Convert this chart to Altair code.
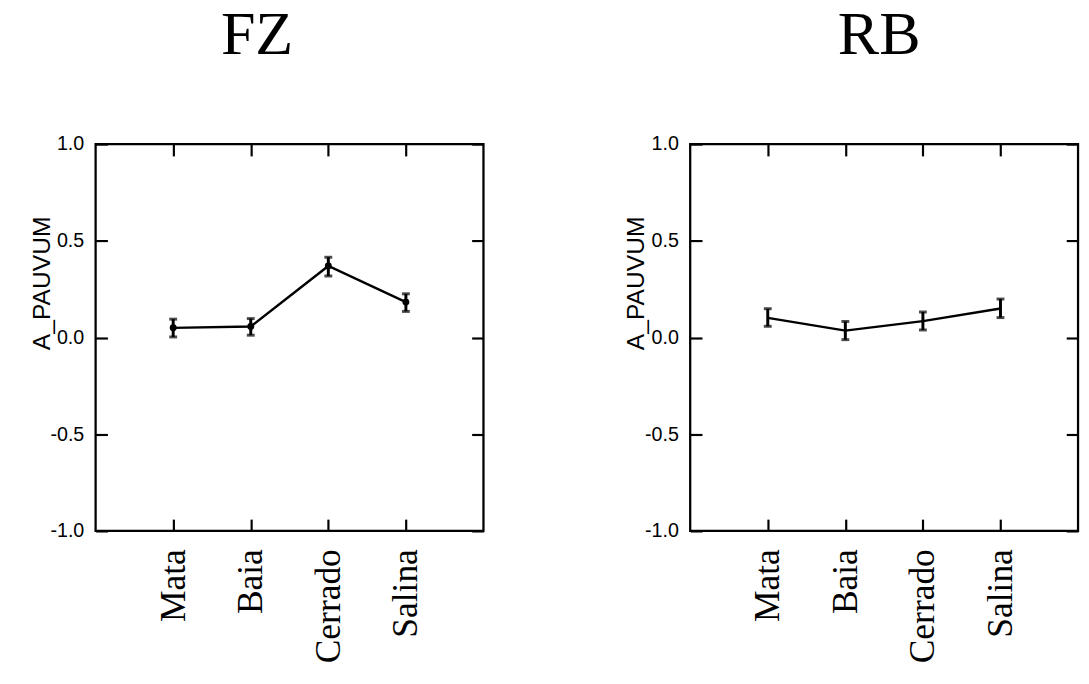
import altair as alt
import pandas as pd

categories = ["Mata", "Baia", "Cerrado", "Salina"]
fz_mean = [0.050, 0.057, 0.370, 0.183]
fz_low = [0.003, 0.012, 0.318, 0.135]
fz_high = [0.095, 0.098, 0.415, 0.226]
rb_mean = [0.102, 0.036, 0.085, 0.150]
rb_low = [0.058, -0.011, 0.039, 0.103]
rb_high = [0.149, 0.083, 0.132, 0.199]
y_ticks = [-1.0, -0.5, 0.0, 0.5, 1.0]
y_title = "A_PAUVUM"

W, H = 394, 393
TICK = 12


def hidden(orient, offset, values=None):
    kw = dict(orient=orient, offset=offset, labels=False, domain=False, ticks=True,
              tickSize=TICK, tickWidth=2.2, tickColor="black", title=None, grid=False)
    if values is not None:
        kw["values"] = values
    return alt.Axis(**kw)


def panel(name, mean, low, high, dots, dx):
    df = pd.DataFrame({"site": categories, "mean": mean, "low": low, "high": high})
    xs = alt.Scale(domain=categories, type="point", padding=1)
    ys = alt.Scale(domain=[-1, 1], nice=False, zero=False)

    x_main = alt.Axis(orient="bottom", labelAngle=270, labelFont="Liberation Serif",
                      labelFontSize=36, labelColor="black", labelPadding=18,
                      ticks=False, tickSize=0, domain=False, title=None, grid=False)
    y_main = alt.Axis(orient="left", values=y_ticks,
                      labelExpr="(datum.value < 0 ? '-' : '') + format(abs(datum.value), '.1f')",
                      labelFont="Liberation Sans",
                      labelFontSize=20, labelColor="black", labelPadding=12,
                      ticks=False, tickSize=0, domain=False, grid=False,
                      title=y_title, titleFont="Liberation Sans", titleFontSize=25,
                      titleFontWeight="normal", titleColor="black", titleAngle=270,
                      titleX=-55, titleY=141, titleAlign="center", titleBaseline="middle")

    base = alt.Chart(df)
    line = base.mark_line(color="black", strokeWidth=2.4).encode(
        x=alt.X("site:N", scale=xs, sort=categories, axis=x_main),
        y=alt.Y("mean:Q", scale=ys, axis=y_main),
    )
    rule = base.mark_rule(color="black", strokeWidth=3).encode(
        x=alt.X("site:N", scale=xs, sort=categories, axis=hidden("top", -H)),
        y=alt.Y("low:Q", scale=ys, axis=hidden("right", -W, y_ticks)),
        y2="high:Q",
    )
    cap_lo = base.mark_tick(color="black", size=8, thickness=3, orient="horizontal").encode(
        x=alt.X("site:N", scale=xs, sort=categories, axis=hidden("bottom", -H)),
        y=alt.Y("low:Q", scale=ys, axis=hidden("left", -W, y_ticks)),
    )
    cap_hi = base.mark_tick(color="black", size=8, thickness=3, orient="horizontal").encode(
        x=alt.X("site:N", scale=xs, sort=categories, axis=None),
        y=alt.Y("high:Q", scale=ys, axis=None),
    )
    layers = [line, rule, cap_lo, cap_hi]
    if dots:
        pts = base.mark_point(filled=True, color="black", size=50, opacity=1).encode(
            x=alt.X("site:N", scale=xs, sort=categories, axis=None),
            y=alt.Y("mean:Q", scale=ys, axis=None),
        )
        layers.append(pts)
    return alt.layer(*layers).resolve_axis(x="independent", y="independent").properties(
        width=W, height=H,
        title=alt.TitleParams(text=name, font="Liberation Serif", fontSize=63,
                              fontWeight="normal", color="black", anchor="middle",
                              frame="group", dx=dx, baseline="top", offset=69),
    )


left = panel("FZ", fz_mean, fz_low, fz_high, True, -33)
right = panel("RB", rb_mean, rb_low, rb_high, False, -5)

chart = alt.hconcat(left, right, spacing=138).properties(
    padding={"left": 20, "top": -11, "right": 0, "bottom": 0}
).configure(background="white").configure_view(stroke="black", strokeWidth=2.3)

chart.save("out.html", embed_options={"renderer": "svg", "actions": False})
